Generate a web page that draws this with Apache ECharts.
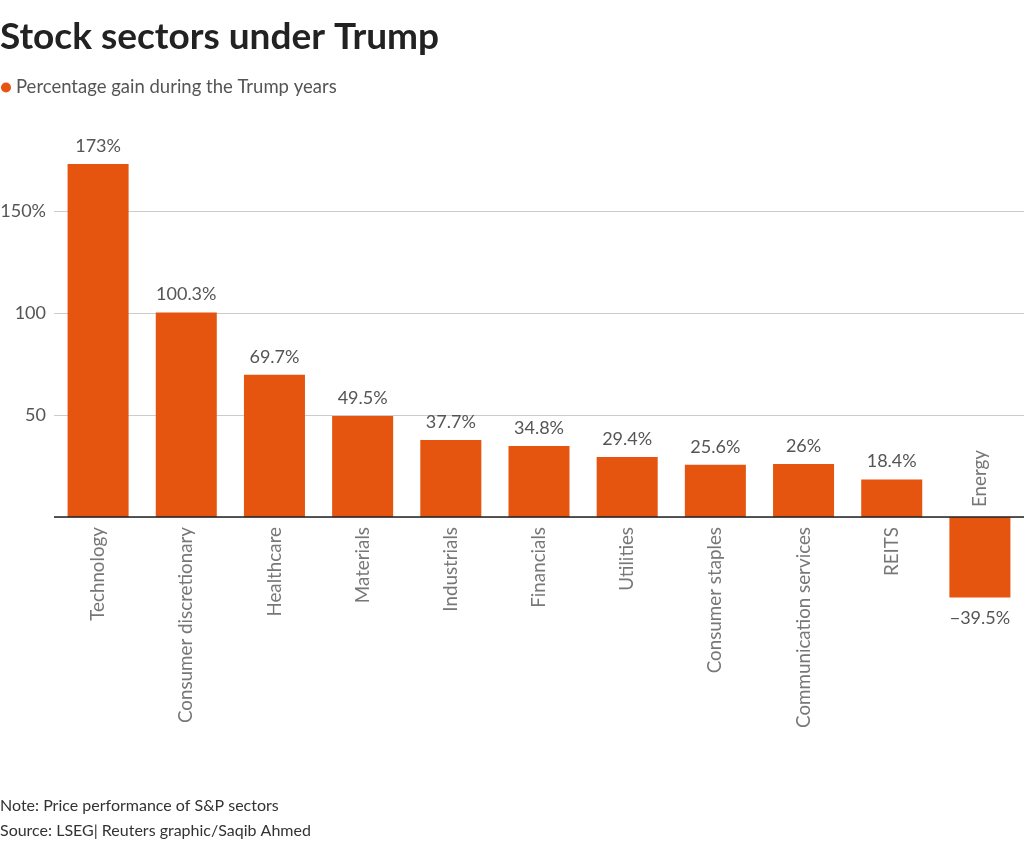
<!DOCTYPE html>
<html>
<head>
<meta charset="utf-8">
<script src="https://cdn.jsdelivr.net/npm/echarts@6/dist/echarts.min.js"></script>
<style>
html,body{margin:0;padding:0;background:#fff;}
#chart{width:1024px;height:845px;}
</style>
</head>
<body>
<div id="chart"></div>
<script>
const categories = ["Technology","Consumer discretionary","Healthcare","Materials","Industrials","Financials","Utilities","Consumer staples","Communication services","REITS","Energy"];
const gains = [173, 100.3, 69.7, 49.5, 37.7, 34.8, 29.4, 25.6, 26, 18.4, -39.5];
const valueLabels = ["173%","100.3%","69.7%","49.5%","37.7%","34.8%","29.4%","25.6%","26%","18.4%","\u221239.5%"];
const yTickLabels = {150: "150%", 100: "100", 50: "50"};

const FONT = "Lato, 'Noto Sans', sans-serif";
const ORANGE = "#e5550f";
const GRAY = "#555";

const chart = echarts.init(document.getElementById('chart'));
chart.setOption({
  animation: false,
  textStyle: {fontFamily: FONT},
  title: [
    {text: "Stock sectors under Trump", left: 0, top: 19, padding: 0,
     textStyle: {fontFamily: FONT, fontSize: 37, fontWeight: 'bold', color: '#222'}},
    {text: "Note: Price performance of S&P sectors", left: 0, top: 798, padding: 0,
     textStyle: {fontFamily: FONT, fontSize: 16, fontWeight: 'normal', color: '#333'}},
    {text: "Source: LSEG| Reuters graphic/Saqib Ahmed", left: 0, top: 823, padding: 0,
     textStyle: {fontFamily: FONT, fontSize: 16, fontWeight: 'normal', color: '#333'}}
  ],
  legend: {
    left: 0, top: 78, padding: [0, 0, 0, 1], icon: 'circle', itemWidth: 10, itemHeight: 10, itemGap: 5,
    data: ["Percentage gain during the Trump years"],
    textStyle: {fontFamily: FONT, fontSize: 18.5, color: GRAY, padding: [0,0,0,0]}
  },
  grid: {left: 54, right: 0, top: 109, bottom: 226, outerBoundsMode: 'none', containLabel: false},
  xAxis: {
    type: 'category', data: categories,
    axisLine: {show: false}, axisTick: {show: false}, axisLabel: {show: false}
  },
  yAxis: {
    type: 'value', min: -50, max: 200, interval: 50,
    axisLine: {show: false}, axisTick: {show: false},
    axisLabel: {
      showMinLabel: false, showMaxLabel: false, margin: 8,
      fontFamily: FONT, fontSize: 18, color: GRAY,
      formatter: v => yTickLabels[v] || ''
    },
    splitLine: {
      showMinLine: false, showMaxLine: false,
      lineStyle: {color: '#cccccc', width: 1}
    }
  },
  series: [
    {
      name: "Percentage gain during the Trump years",
      type: 'bar', barCategoryGap: '30.8%',
      data: gains.map(v => ({value: v, label: {position: v < 0 ? 'bottom' : 'top', distance: v < 0 ? 12 : 9}})),
      itemStyle: {color: ORANGE},
      label: {
        show: true, distance: 9, fontFamily: FONT, fontSize: 18, color: GRAY,
        formatter: p => valueLabels[p.dataIndex]
      },
      markLine: {
        silent: true, symbol: 'none', label: {show: false},
        lineStyle: {color: '#222', width: 1.5, type: 'solid'},
        data: [{yAxis: 0}]
      }
    },
    {
      name: 'catLabels', type: 'scatter', symbolSize: 0, silent: true,
      data: categories.map((c, i) => {
        const neg = gains[i] < 0;
        return {
          value: [i, 0],
          label: {
            show: true, formatter: c, rotate: 90,
            position: neg ? 'top' : 'bottom', distance: 10,
            align: neg ? 'left' : 'right', verticalAlign: 'middle',
            fontFamily: FONT, fontSize: 18.8, color: GRAY
          }
        };
      })
    }
  ]
});
</script>
</body>
</html>
